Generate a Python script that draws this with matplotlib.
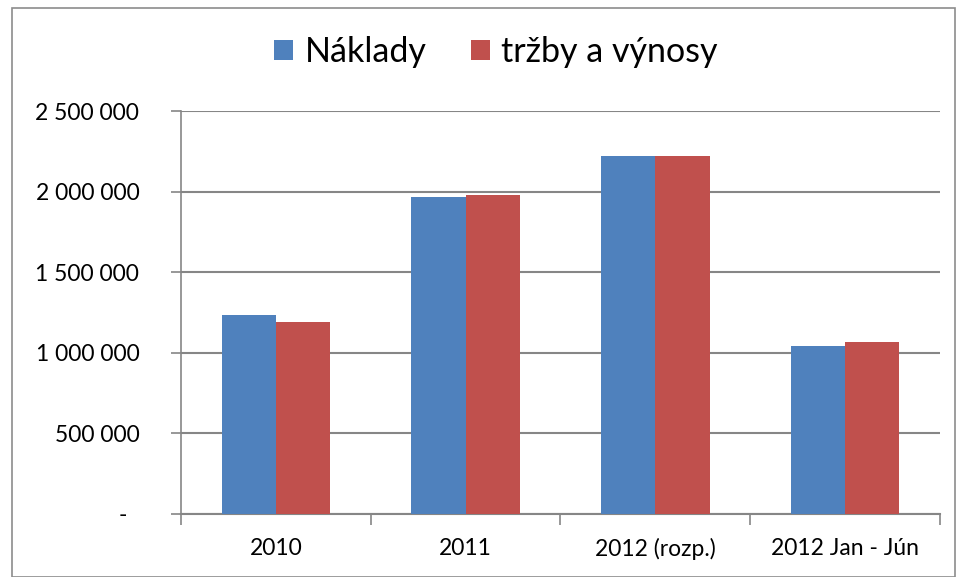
import numpy as np
import matplotlib.pyplot as plt
import matplotlib.transforms as mtransforms
from matplotlib.patches import Rectangle

plt.rcParams['font.family'] = ['Lato', 'DejaVu Sans']

categories = ['2010', '2011', '2012 (rozp.)', '2012 Jan - Jún']
naklady = [1235000, 1968000, 2222000, 1044000]
trzby = [1193000, 1982000, 2222000, 1067000]
series_names = ['Náklady', 'tržby a výnosy']
yticks = [0, 500000, 1000000, 1500000, 2000000, 2500000]


def fmt(v):
    if v == 0:
        return '-'
    return '{:,}'.format(int(v)).replace(',', ' ')


fig = plt.figure(figsize=(9.59, 5.77), dpi=100)
ax = fig.add_axes([0.1887, 0.1092, 0.7915, 0.6984])

# chart border
fig.patches.append(Rectangle((12 / 959, 0.0), 943 / 959, 1 - 8 / 577,
                             transform=fig.transFigure, fill=False,
                             edgecolor='#8c8c8c', linewidth=1.2))

x = np.arange(len(categories))
w = 0.286
ax.bar(x - w / 2, naklady, w, color='#4F81BD', label=series_names[0], zorder=3)
ax.bar(x + w / 2, trzby, w, color='#C0504D', label=series_names[1], zorder=3)

ax.set_xlim(-0.5, len(categories) - 0.5)
ax.set_ylim(0, 2500000)
ax.set_yticks(yticks)
ax.set_yticklabels([fmt(v) for v in yticks])
ax.set_xticks(x)
ax.set_xticklabels(categories)
ax.set_xticks(np.arange(len(categories) + 1) - 0.5, minor=True)

ax.grid(axis='y', color='#868686', linewidth=1.5, zorder=0)
for s in ['top', 'right']:
    ax.spines[s].set_visible(False)
ax.spines['left'].set_color('#868686')
ax.spines['bottom'].set_color('#868686')
ax.spines['left'].set_linewidth(1.2)
ax.spines['bottom'].set_linewidth(1.5)

ax.tick_params(axis='x', which='major', length=0, pad=17, labelsize=16.5)
ax.tick_params(axis='x', which='minor', length=8, color='#868686', width=1.2)
ax.tick_params(axis='y', length=7, color='#868686', width=1.2, pad=23, labelsize=16.5)
ylabels = ax.get_yticklabels()
for lab in ylabels:
    lab.set_horizontalalignment('right')
# zero label "-" sits a bit left, like the accounting format
ylabels[0].set_transform(ylabels[0].get_transform() +
                         mtransforms.ScaledTranslation(-0.12, 0, fig.dpi_scale_trans))

fig.legend(loc='center', bbox_to_anchor=(496 / 959, 1 - 52 / 577), ncol=2,
           frameon=False, fontsize=24.5, handlelength=0.55, handleheight=0.55,
           handletextpad=0.35, columnspacing=1.3)

fig.savefig('out.png', dpi=100)
